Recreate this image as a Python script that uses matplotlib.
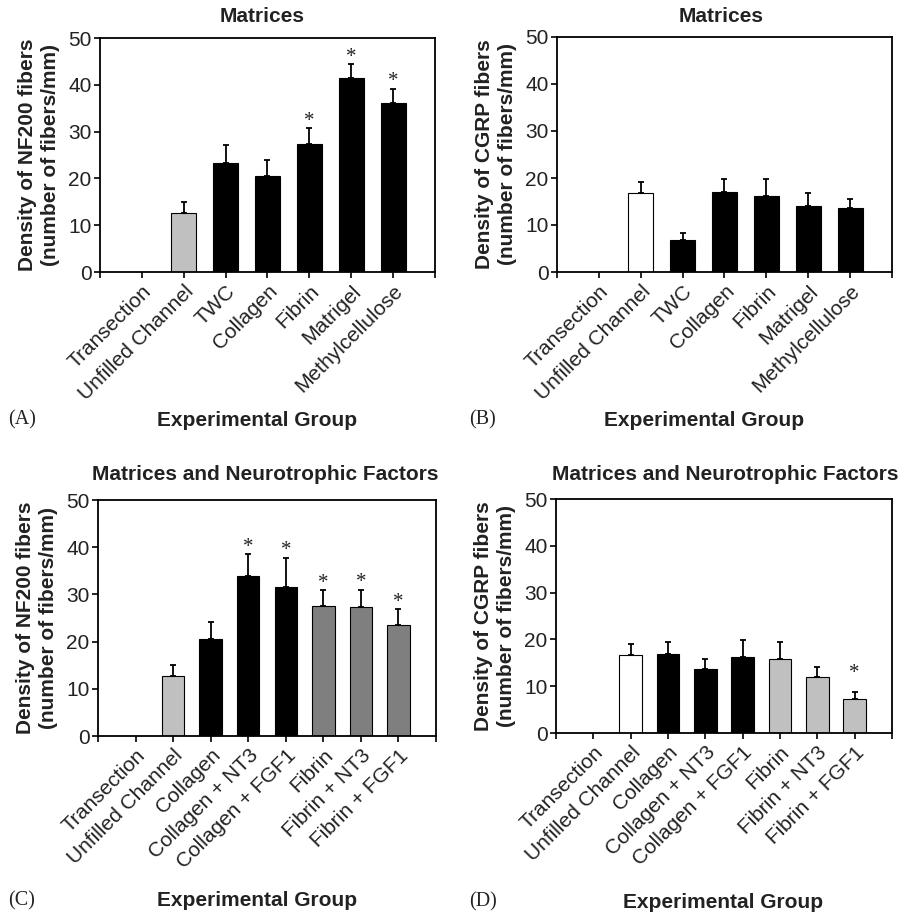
import matplotlib
matplotlib.use('Agg')
import matplotlib.pyplot as plt
import numpy as np

plt.rcParams['font.family'] = ['Liberation Sans', 'DejaVu Sans']
TXT = '#222222'

# ------------------- DATA ----------------
matrix_groups = ['Transection', 'Unfilled Channel', 'TWC', 'Collagen',
                 'Fibrin', 'Matrigel', 'Methylcellulose']
nf200_matrix = [0, 12.7, 23.3, 20.5, 27.4, 41.4, 36.1]
nf200_matrix_err = [0, 2.2, 3.8, 3.5, 3.3, 3.0, 3.1]
nf200_matrix_sig = [False, False, False, False, True, True, True]
cgrp_matrix = [0, 16.8, 6.8, 17.1, 16.2, 14.1, 13.6]
cgrp_matrix_err = [0, 2.3, 1.5, 2.6, 3.5, 2.7, 1.9]
cgrp_matrix_sig = [False] * 7

factor_groups = ['Transection', 'Unfilled Channel', 'Collagen', 'Collagen + NT3',
                 'Collagen + FGF1', 'Fibrin', 'Fibrin + NT3', 'Fibrin + FGF1']
nf200_factor = [0, 12.7, 20.5, 34.0, 31.6, 27.6, 27.4, 23.6]
nf200_factor_err = [0, 2.3, 3.6, 4.5, 6.2, 3.3, 3.6, 3.3]
nf200_factor_sig = [False, False, False, True, True, True, True, True]
cgrp_factor = [0, 16.7, 16.9, 13.7, 16.2, 15.9, 11.9, 7.3]
cgrp_factor_err = [0, 2.3, 2.6, 2.1, 3.6, 3.6, 2.1, 1.5]
cgrp_factor_sig = [False] * 7 + [True]

# bar fills
LIGHT, DARK = '#c0c0c0', '#7f7f7f'
col_a = ['white', LIGHT] + ['black'] * 5
col_b = ['white', 'white'] + ['black'] * 5
col_c = ['white', LIGHT, 'black', 'black', 'black', DARK, DARK, DARK]
col_d = ['white', 'white', 'black', 'black', 'black', LIGHT, LIGHT, LIGHT]

W, H = 904, 913
fig = plt.figure(figsize=(W / 100, H / 100), dpi=100)


def add_axes(left, top, right, bottom):
    return fig.add_axes([left / W, 1 - bottom / H, (right - left) / W, (bottom - top) / H])


def panel(ax, groups, vals, errs, sig, colors, ylabel, star_gap=0.5):
    x = np.arange(len(groups))
    ax.bar(x, vals, width=0.6, color=colors, edgecolor='black', linewidth=0.8, zorder=2)
    m = np.array(vals) > 0
    ax.errorbar(x[m], np.array(vals)[m], yerr=[np.zeros(m.sum()), np.array(errs)[m]],
                fmt='none', ecolor='black', elinewidth=1.3, capsize=2.5, capthick=1.3, zorder=1)
    # significance marks above the error bar
    for xi, v, e, s in zip(x, vals, errs, sig):
        if s:
            ax.text(xi, v + e + star_gap, '*', ha='center', va='baseline', fontsize=15,
                    family='Liberation Serif', color=TXT)
    ax.set_xlim(-1, len(groups))
    ax.set_ylim(0, 50)
    ax.set_yticks(range(0, 51, 10))
    ax.set_xticks(x)
    ax.set_xticks([-1, len(groups)], minor=True)
    ax.tick_params(which='both', axis='x', length=4, width=1.2, pad=3)
    ax.tick_params(axis='y', length=4, width=1.2, labelsize=15, labelcolor=TXT, pad=2)
    ax.set_xticklabels(groups, rotation=45, ha='right', va='top',
                       rotation_mode='anchor', fontsize=15, color=TXT)
    for sp in ax.spines.values():
        sp.set_linewidth(1.3)
    ax.set_ylabel(ylabel, fontsize=15, fontweight='bold', color=TXT,
                  linespacing=1.25, labelpad=6)


axA = add_axes(100, 38, 435, 272)
axB = add_axes(557, 37, 892, 272)
axC = add_axes(98, 500, 436, 736)
axD = add_axes(556, 499, 892, 733)

nf_lab = 'Density of NF200 fibers\n(number of fibers/mm)'
cg_lab = 'Density of CGRP fibers\n(number of fibers/mm)'
panel(axA, matrix_groups, nf200_matrix, nf200_matrix_err, nf200_matrix_sig, col_a, nf_lab)
panel(axB, matrix_groups, cgrp_matrix, cgrp_matrix_err, cgrp_matrix_sig, col_b, cg_lab)
panel(axC, factor_groups, nf200_factor, nf200_factor_err, nf200_factor_sig, col_c, nf_lab)
panel(axD, factor_groups, cgrp_factor, cgrp_factor_err, cgrp_factor_sig, col_d, cg_lab,
      star_gap=3.0)

# titles, axis captions and panel letters
for x, y, t in [(262, 17, 'Matrices'), (721, 17, 'Matrices'),
                (265, 475, 'Matrices and Neurotrophic Factors'),
                (725, 475, 'Matrices and Neurotrophic Factors')]:
    fig.text(x / W, 1 - y / H, t, ha='center', va='center', fontsize=15,
             fontweight='bold', color=TXT)
for x, y in [(257, 420), (704, 420), (257, 900), (723, 902)]:
    fig.text(x / W, 1 - y / H, 'Experimental Group', ha='center', va='center',
             fontsize=15, fontweight='bold', color=TXT)
for x, y, t in [(22, 420, '(A)'), (483, 420, '(B)'), (22, 901, '(C)'), (483, 902, '(D)')]:
    fig.text(x / W, 1 - y / H, t, ha='center', va='center', fontsize=14.5,
             family='Liberation Serif', color=TXT)

fig.savefig('out.png', dpi=100)
